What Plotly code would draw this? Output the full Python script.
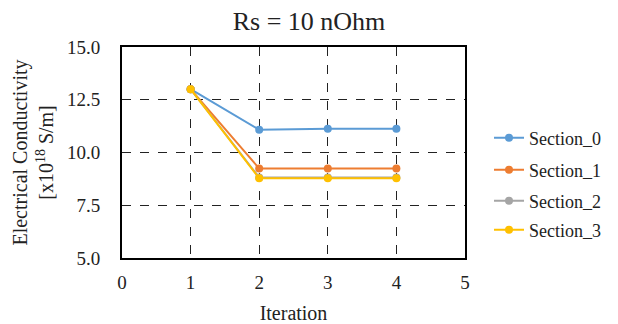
import plotly.graph_objects as go

iterations = [1, 2, 3, 4]
section_0 = [13.0, 11.08, 11.12, 11.12]
section_1 = [13.0, 9.24, 9.24, 9.24]
section_2 = [13.0, 8.82, 8.82, 8.82]
section_3 = [13.0, 8.78, 8.78, 8.78]
names = ["Section_0", "Section_1", "Section_2", "Section_3"]
colors = ["#5B9BD5", "#ED7D31", "#A5A5A5", "#FFC000"]

font = "Liberation Serif, Times New Roman, serif"
legend_ids = ["legend", "legend2", "legend3", "legend4"]
legend_y = [0.569, 0.417, 0.270, 0.133]

fig = go.Figure()
for name, vals, c, lg in zip(names, [section_0, section_1, section_2, section_3], colors, legend_ids):
    fig.add_trace(go.Scatter(x=iterations, y=vals, mode="lines+markers", legend=lg,
                             name=name, showlegend=True,
                             line=dict(color=c, width=2), marker=dict(color=c, size=8)))

legends = {}
for lg, ly in zip(legend_ids, legend_y):
    legends[lg] = dict(x=1.07, y=ly, xanchor="left", yanchor="middle",
                       font=dict(family=font, size=18, color="#222"),
                       itemwidth=30, bgcolor="rgba(0,0,0,0)")

fig.update_layout(
    width=618, height=324, margin=dict(l=122, r=150, t=47, b=66),
    paper_bgcolor="white", plot_bgcolor="white", showlegend=True,
    font=dict(family=font, size=19, color="#222"),
    title=dict(text="Rs = 10 nOhm", x=0.5, xanchor="center", xref="container", y=0.935, yanchor="middle",
               font=dict(family=font, size=26, color="#222")),
    xaxis=dict(range=[0, 5], dtick=1, showgrid=True, gridcolor="#222", griddash="dash", gridwidth=1,
               showline=True, linecolor="black", linewidth=2, mirror=True, zeroline=False,
               automargin=False,
               ticks="", tickfont=dict(family=font, size=19), ticklabelstandoff=6,
               title=dict(text="Iteration", font=dict(family=font, size=20), standoff=14)),
    yaxis=dict(range=[5, 15], dtick=2.5, tickformat=".1f", showgrid=True, gridcolor="#222", griddash="dash",
               gridwidth=1, showline=True, linecolor="black", linewidth=2, mirror=True, zeroline=False,
               automargin=False,
               ticks="", tickfont=dict(family=font, size=19), ticklabelstandoff=16,
               title=dict(text="Electrical Conductivity<br>[x10<sup>18</sup> S/m]",
                          font=dict(family=font, size=20), standoff=8)),
    **legends,
)
fig.write_html("out.html")
